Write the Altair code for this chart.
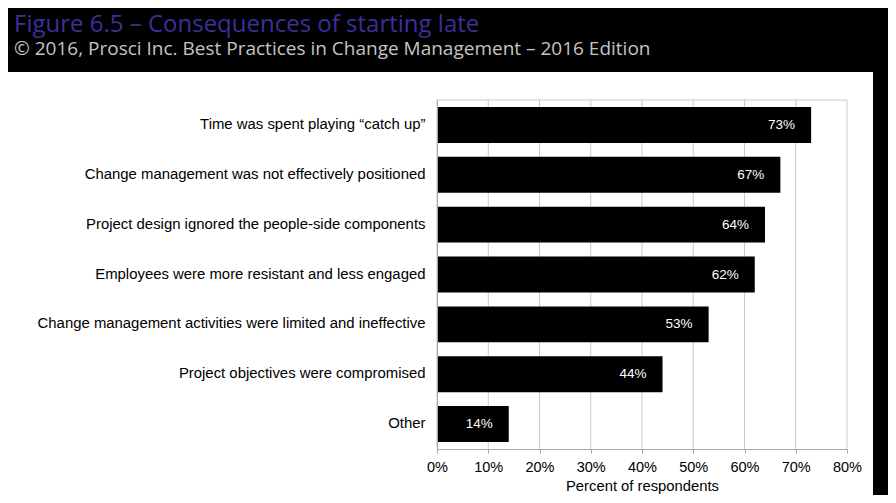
import altair as alt
import pandas as pd

categories = [
    "Time was spent playing \u201ccatch up\u201d",
    "Change management was not effectively positioned",
    "Project design ignored the people-side components",
    "Employees were more resistant and less engaged",
    "Change management activities were limited and ineffective",
    "Project objectives were compromised",
    "Other",
]
values = [73, 67, 64, 62, 53, 44, 14]
x_ticks = [0, 10, 20, 30, 40, 50, 60, 70, 80]

df = pd.DataFrame({"category": categories, "value": values})
df["label"] = df["value"].astype(str) + "%"
ticks_df = pd.DataFrame({"t": x_ticks})

FONT = "Liberation Sans"
x_scale = alt.Scale(domain=[0, 80], nice=False)

panel = alt.Chart(pd.DataFrame({"a": [0]})).mark_rect(color="white").encode(
    x=alt.value(-437), x2=alt.value(436), y=alt.value(-28), y2=alt.value(420)
)

grid = alt.Chart(ticks_df).mark_rule(color="#c8c8c8", strokeWidth=1).encode(
    x=alt.X("t:Q", scale=x_scale)
)
top_border = alt.Chart(pd.DataFrame({"a": [0]})).mark_rule(
    color="#c8c8c8", strokeWidth=1
).encode(y=alt.value(0))

y_enc = alt.Y(
    "category:N",
    sort=categories,
    title=None,
    scale=alt.Scale(paddingInner=0.28, paddingOuter=0.14),
    axis=alt.Axis(
        labelFont=FONT, labelFontSize=14.9, labelColor="#000000",
        labelPadding=12, ticks=False, domainColor="#a6a6a6", grid=False,
        labelLimit=500, zindex=1,
    ),
)

bars = alt.Chart(df).mark_bar(color="#000000").encode(
    x=alt.X(
        "value:Q",
        title="Percent of respondents",
        scale=x_scale,
        axis=alt.Axis(
            values=x_ticks, labelExpr="datum.value + '%'",
            labelFont=FONT, labelFontSize=14.5, labelColor="#000000",
            labelFlush=False,
            titleFont=FONT, titleFontSize=14.8, titleFontWeight="normal",
            titleColor="#000000", titlePadding=5,
            domainColor="#a6a6a6", tickColor="#a6a6a6", tickSize=4,
            grid=False, labelPadding=7, zindex=1,
        ),
    ),
    y=y_enc,
)

labels = alt.Chart(df).mark_text(
    color="white", align="right", baseline="middle", dx=-16,
    font=FONT, fontSize=13.5,
).encode(
    x=alt.X("value:Q", scale=x_scale),
    y=alt.Y("category:N", sort=categories),
    text="label:N",
)

chart = alt.layer(panel, grid, top_border, bars, labels).properties(
    width=410,
    height=349,
    title=alt.TitleParams(
        text="Figure 6.5 \u2013 Consequences of starting late",
        subtitle="\u00a9 2016, Prosci Inc. Best Practices in Change Management \u2013 2016 Edition",
        anchor="start", frame="group", dx=-423, offset=13,
        font="Open Sans", fontSize=24, fontWeight="normal", color="#3b3099",
        subtitleFont="Open Sans", subtitleFontSize=19, subtitleColor="#c4c4c4",
        subtitlePadding=3,
    ),
    autosize=alt.AutoSizeParams(type="none"),
    padding={"left": 429, "top": 92, "right": 41, "bottom": 46},
).configure(background="#000000").configure_view(
    stroke=None
)

chart.save("out.html", embed_options={"renderer": "svg", "actions": False})
